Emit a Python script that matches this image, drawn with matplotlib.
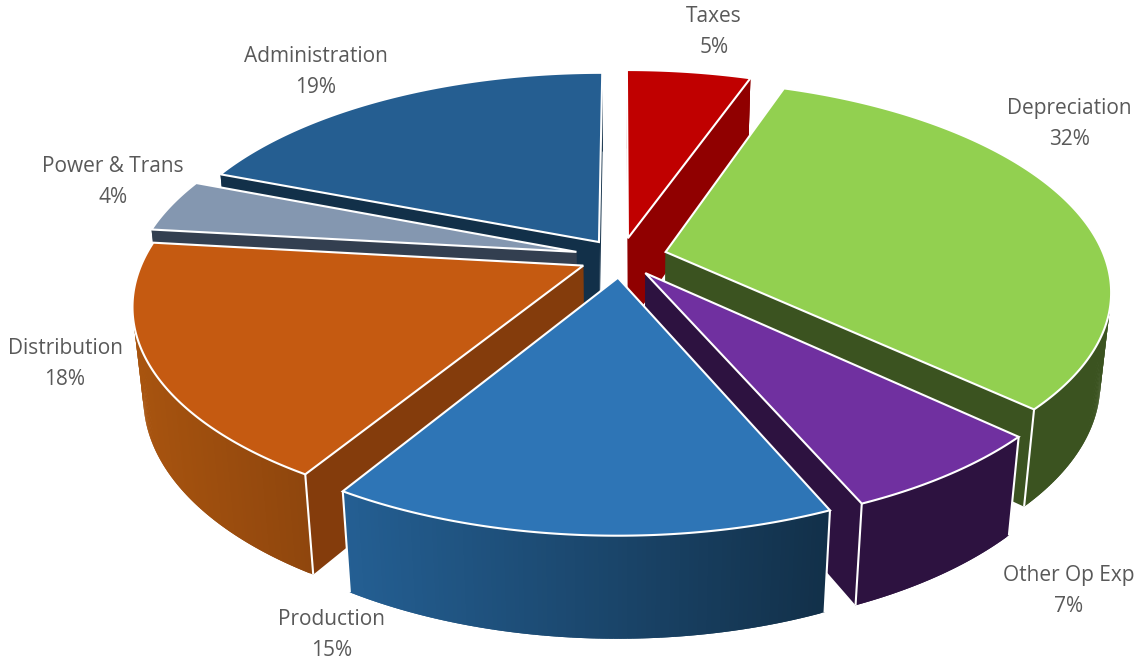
import numpy as np
import matplotlib
matplotlib.use("Agg")
import matplotlib.pyplot as plt
from matplotlib.patches import Polygon

labels = ["Taxes", "Depreciation", "Other Op Exp", "Production", "Distribution", "Power & Trans", "Administration"]
values = [5.4, 31.6, 6.5, 15.2, 18.1, 4.1, 19.1]
percent_labels = ["5%", "32%", "7%", "15%", "18%", "4%", "19%"]
explode = [0.095, 0.105, 0.095, 0.10, 0.095, 0.105, 0.09]
top_colors = ["#C00000", "#92D050", "#7030A0", "#2E75B6", "#C55A11", "#8497B0", "#255E91"]
cut_colors = ["#900000", "#3B5320", "#2D1240", "#123049", "#843C0C", "#333F50", "#123049"]
rim_start = ["#900000", "#3B5320", "#2D1240", "#123049", "#8F460D", "#333F50", "#123049"]
rim_end = ["#900000", "#3B5320", "#2D1240", "#245F93", "#A8540F", "#333F50", "#123049"]
draw_order = [6, 5, 4, 0, 1, 2, 3]
label_pos = [(714, 32), (1069, 124), (1069, 591), (332, 635), (65, 364), (113, 182), (316, 72)]

ELEV = np.radians(27.7)
DIST = 5.0
FOCAL = 2195
CX, CY = 621, 257
H = 0.235
WHITE = 1.5


def project(x, y, z):
    u = y * np.sin(ELEV) + z * np.cos(ELEV)
    w = y * np.cos(ELEV) - z * np.sin(ELEV)
    return np.column_stack([CX + FOCAL * x / (DIST + w), CY - FOCAL * u / (DIST + w)])


def to_rgb(c):
    return np.array(matplotlib.colors.to_rgb(c))


fig = plt.figure(figsize=(11.41, 6.62), dpi=100)
ax = fig.add_axes([0, 0, 1, 1])
ax.set_xlim(0, 1141)
ax.set_ylim(662, 0)
ax.axis("off")

edges = np.concatenate([[0], np.cumsum(values)]) / np.sum(values) * 2 * np.pi

for i in draw_order:
    z = 1 + draw_order.index(i)
    a0, a1 = edges[i], edges[i + 1]
    mid = (a0 + a1) / 2
    ox, oy = explode[i] * np.sin(mid), explode[i] * np.cos(mid)
    th = np.linspace(a0, a1, max(12, int(np.degrees(a1 - a0) * 2)))
    rx, ry = ox + np.sin(th), oy + np.cos(th)
    n = len(th)
    rim_top = project(rx, ry, np.zeros(n))
    rim_bot = project(rx, ry, np.full(n, -H))
    apex_top = project(np.array([ox]), np.array([oy]), np.zeros(1))[0]
    apex_bot = project(np.array([ox]), np.array([oy]), np.full(1, -H))[0]
    # radial cut faces
    for k in (0, -1):
        pts = [apex_top, rim_top[k], rim_bot[k], apex_bot]
        ax.add_patch(Polygon(pts, closed=True, fc=cut_colors[i], ec="none", zorder=z))
    # outer rim shaded in overlapping strips so no seams appear
    c0, c1 = to_rgb(rim_start[i]), to_rgb(rim_end[i])
    xs = rim_top[:, 0]
    lo, hi = xs.min(), xs.max()
    for j in range(n - 1):
        f = np.clip(((rim_top[j, 0] + rim_top[j + 1, 0]) / 2 - lo) / max(hi - lo, 1), 0, 1)
        col = c1 + (c0 - c1) * f
        e = min(j + 2, n - 1)
        ax.add_patch(Polygon([rim_top[j], rim_top[e], rim_bot[e], rim_bot[j]], closed=True,
                             fc=col, ec="none", zorder=z))
    # white vertical edges only where the rim end faces the viewer
    for k in (0, -1):
        if np.cos(th[k]) < 0:
            ax.plot([rim_top[k, 0], rim_bot[k, 0]], [rim_top[k, 1], rim_bot[k, 1]], color="white",
                    lw=WHITE, zorder=z, solid_capstyle="butt")
    # top face
    ax.add_patch(Polygon(np.vstack([[apex_top], rim_top]), closed=True, fc=top_colors[i], ec="white", lw=WHITE,
                         joinstyle="miter", zorder=z))

for name, pct, (px, py) in zip(labels, percent_labels, label_pos):
    ax.text(px, py, f"{name}\n{pct}", ha="center", va="center", fontsize=15, family="Open Sans",
            color="#595959", linespacing=1.62, zorder=20)

fig.savefig("out.png", dpi=100, facecolor="white")
